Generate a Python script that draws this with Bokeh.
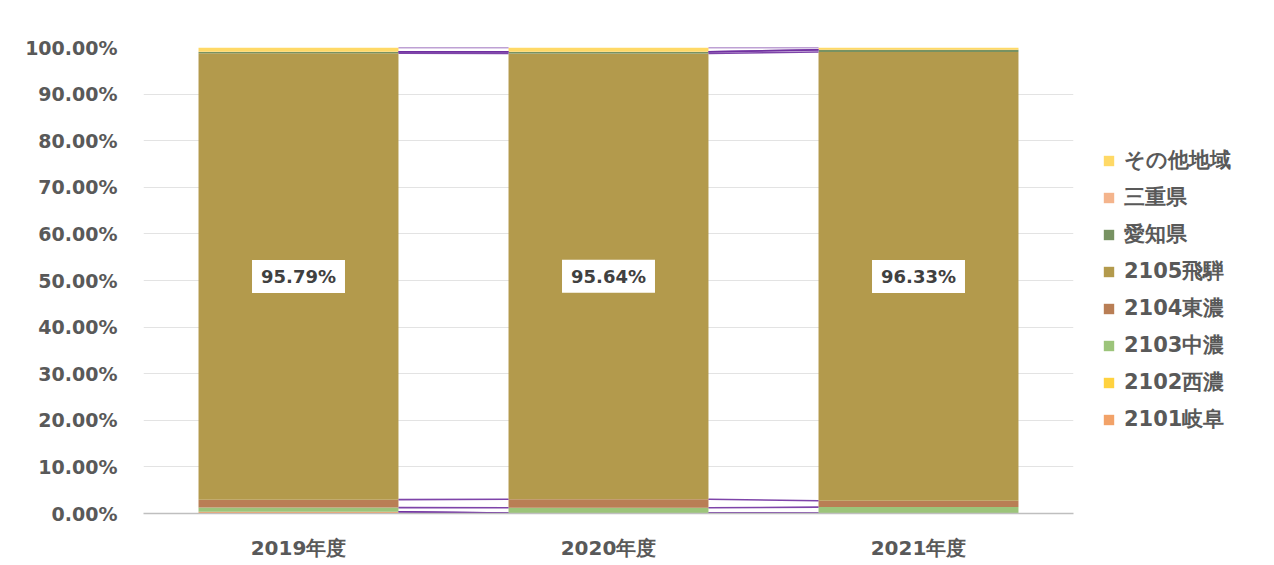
from bokeh.plotting import figure
from bokeh.models import (ColumnDataSource, Range1d, FixedTicker, NumeralTickFormatter,
                          Legend, LegendItem)
from bokeh.core.properties import value
from bokeh.embed import file_html
from bokeh.resources import INLINE

# ---- data (percent shares) ----
categories = ["2019年度", "2020年度", "2021年度"]
series_names = ["2101岐阜", "2102西濃", "2103中濃", "2104東濃", "2105飛騨", "愛知県", "三重県", "その他地域"]
gifu = [0.35, 0.10, 0.05]
seino = [0.02, 0.02, 0.02]
chuno = [0.90, 1.10, 1.30]
tono = [1.70, 1.85, 1.35]
hida = [95.79, 95.64, 96.33]
aichi = [0.30, 0.35, 0.45]
mie = [0.04, 0.04, 0.03]
other = [0.90, 0.90, 0.47]
colors = ["#F2A268", "#FFD23F", "#9CC47A", "#B97E55", "#B39A4C", "#779262", "#F4B48C", "#FFD966"]

series = [gifu, seino, chuno, tono, hida, aichi, mie, other]
keys = ["s%d" % i for i in range(len(series))]

xs = [i + 0.5 for i in range(len(categories))]
data = {"x": xs}
for k, s in zip(keys, series):
    data[k] = [v / 100.0 for v in s]
src = ColumnDataSource(data)

FONT = "DejaVu Sans"
GRAY = "#595959"

p = figure(width=1258, height=549, output_backend="svg", toolbar_location=None,
           x_range=Range1d(0, 3), y_range=Range1d(0, 1))
p.frame_width = 930
p.frame_height = 466
p.min_border_left = 143
p.min_border_right = 185
p.min_border_top = 47
p.min_border_bottom = 36
p.outline_line_color = None
p.background_fill_color = "white"

bar_w = 0.645
renderers = p.vbar_stack(keys, x="x", width=bar_w, color=colors, source=src, line_color=None)

# series lines between bars
cum = []
run = [0.0] * len(categories)
for s in series:
    run = [r + v / 100.0 for r, v in zip(run, s)]
    cum.append(list(run))
x0s, x1s, y0s, y1s = [], [], [], []
for level in cum:
    for i in range(len(categories) - 1):
        x0s.append(xs[i] + bar_w / 2)
        x1s.append(xs[i + 1] - bar_w / 2)
        y0s.append(level[i])
        y1s.append(level[i + 1])
p.segment(x0=x0s, y0=y0s, x1=x1s, y1=y1s, line_color="#7030A0", line_width=1.6, line_alpha=0.9)

# data labels for 飛騨
lab_y = [(cum[3][i] + cum[4][i]) / 2 for i in range(len(categories))]
lab_src = ColumnDataSource({"x": xs, "y": lab_y, "t": ["%.2f%%" % v for v in hida]})
p.text(x="x", y="y", text="t", source=lab_src, text_align="center", text_baseline="middle",
       text_font=value(FONT), text_font_style="bold", text_font_size="18px", text_color="#404040",
       background_fill_color="white", padding=[9, 6])

# axes
p.xaxis.ticker = FixedTicker(ticks=xs)
p.xaxis.major_label_overrides = {x: c for x, c in zip(xs, categories)}
p.xaxis.major_tick_line_color = None
p.xaxis.minor_tick_line_color = None
p.xaxis.axis_line_color = "#BFBFBF"
p.xaxis.axis_line_width = 1.5
p.xaxis.major_label_standoff = 16
p.xaxis.major_label_text_font = FONT
p.xaxis.major_label_text_font_style = "bold"
p.xaxis.major_label_text_font_size = "20px"
p.xaxis.major_label_text_color = GRAY

p.yaxis.ticker = FixedTicker(ticks=[i / 10 for i in range(11)])
p.yaxis.formatter = NumeralTickFormatter(format="0.00%")
p.yaxis.major_tick_line_color = None
p.yaxis.minor_tick_line_color = None
p.yaxis.axis_line_color = None
p.yaxis.major_label_standoff = 20
p.yaxis.major_label_text_font = FONT
p.yaxis.major_label_text_font_style = "bold"
p.yaxis.major_label_text_font_size = "19px"
p.yaxis.major_label_text_color = GRAY

p.xgrid.grid_line_color = None
p.ygrid.grid_line_color = "#E3E3E3"
p.ygrid.grid_line_width = 1

items = [LegendItem(label=n, renderers=[r]) for n, r in zip(series_names, renderers)][::-1]
legend = Legend(items=items, location=(29, 80), border_line_color=None,
                background_fill_alpha=0, glyph_width=13, glyph_height=13, label_height=20,
                spacing=9, padding=0, margin=0, label_standoff=9,
                label_text_font=FONT, label_text_font_style="bold",
                label_text_font_size="21px", label_text_color=GRAY)
p.add_layout(legend, "right")

open("out.html", "w").write(file_html(p, INLINE))
